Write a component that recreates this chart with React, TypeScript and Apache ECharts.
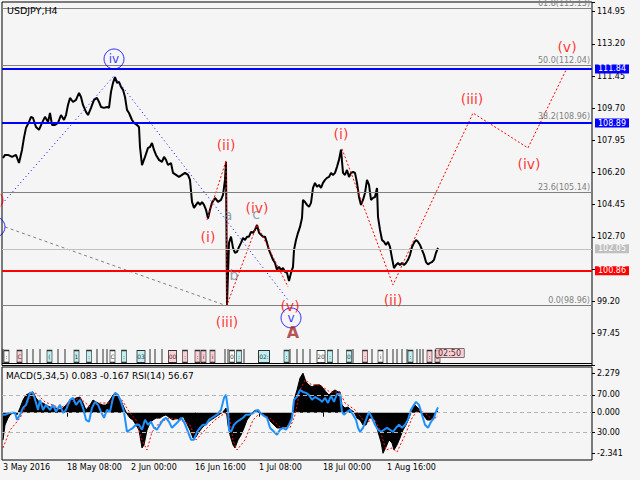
import React, { useEffect, useRef } from 'react';
import * as echarts from 'echarts';

// ---------- data (x = bar index on the H4 time axis) ----------
const PRICE: [number, number][] = [
  [3,106.99],[5,107.16],[8,107.16],[12,107.05],[16,107.16],[19,106.72],[22,107.43],[24,108.10],[26,108.63],[29,108.95],
  [31,109.23],[33,109.17],[36,108.68],[39,108.52],[42,108.90],[45,109.23],[48,108.95],[50,109.44],[52,108.79],[55,108.79],
  [58,108.90],[61,109.33],[64,109.06],[66,109.33],[68,109.88],[70,110.26],[73,110.04],[76,110.15],[79,110.53],[81,110.31],
  [83,109.88],[86,109.50],[88,109.33],[91,109.72],[94,110.15],[97,110.26],[99,110.04],[101,109.77],[104,109.72],[107,109.77],
  [109,109.72],[111,110.59],[113,111.08],[115,111.40],[117,111.08],[119,111.13],[121,110.86],[123,110.70],[125,110.31],[127,109.61],
  [129,109.44],[132,109.06],[134,108.90],[137,108.79],[139,108.68],[140,107.59],[142,106.60],[145,107.05],[148,107.54],[150,107.59],
  [152,107.81],[154,107.43],[156,107.16],[159,106.89],[162,106.78],[164,107.05],[166,106.89],[168,106.61],[171,106.72],[173,106.18],
  [176,106.07],[179,105.96],[182,106.07],[185,106.18],[188,106.07],[190,105.80],[192,104.60],[194,104.28],[196,104.44],[198,104.60],
  [200,104.44],[202,104.60],[204,104.44],[206,104.17],[208,103.70],[210,104.17],[212,104.55],[215,104.82],[218,104.60],[221,104.71],
  [223,104.98],[225,105.80],[226,106.78],[227,98.99],[229,102.37],[231,102.71],[233,102.10],[235,101.83],[237,101.88],[239,102.15],
  [241,102.37],[243,102.64],[245,102.53],[247,102.71],[249,102.71],[251,102.97],[253,102.92],[255,103.08],[257,103.35],[259,102.92],
  [261,102.81],[263,102.71],[265,102.71],[267,102.37],[269,101.99],[271,101.72],[273,101.45],[275,101.28],[277,100.90],[279,101.07],
  [281,100.90],[283,101.01],[285,100.79],[287,100.74],[289,100.30],[291,100.74],[293,101.07],[294,101.99],[296,102.53],[298,102.92],
  [300,103.24],[302,103.73],[303,104.71],[305,104.60],[307,104.44],[309,104.33],[311,104.55],[313,105.36],[315,105.64],[317,105.42],
  [319,105.53],[321,105.36],[323,105.64],[325,105.80],[327,105.91],[329,105.96],[331,106.18],[333,106.07],[335,106.18],[337,106.51],
  [339,106.89],[341,107.45],[343,106.18],[345,106.07],[347,106.34],[349,105.96],[351,106.18],[353,106.23],[355,106.18],[357,105.64],
  [359,104.87],[361,104.44],[363,104.71],[365,105.09],[367,105.80],[369,105.53],[371,104.71],[373,104.82],[375,104.87],[377,105.36],
  [378,103.79],[380,103.08],[382,102.53],[384,102.43],[386,102.26],[388,102.43],[390,102.15],[392,101.55],[394,101.00],[396,101.17],
  [398,101.28],[400,101.17],[402,101.28],[404,101.17],[406,101.28],[408,101.45],[410,101.72],[412,102.15],[414,102.37],[416,102.53],
  [418,102.43],[420,102.26],[422,101.99],[424,101.72],[426,101.33],[428,101.20],[430,101.28],[432,101.33],[434,101.45],[436,101.83],
  [438,102.10],
];

const MACD_HIST: [number, number][] = [
  [3,-1.57],[5,-0.71],[8,-0.31],[10,-0.13],[13,0],[17,-0.13],[20,0.27],[23,0.73],[26,1.02],[30,1.14],[33,1.20],[36,0.85],
  [40,0.56],[43,0.56],[46,0.44],[50,0.33],[53,0.27],[56,0.27],[60,0.16],[63,0.27],[66,0.44],[70,0.73],[73,0.73],[76,0.85],
  [80,0.90],[83,0.56],[86,0.16],[90,0.44],[93,0.73],[96,0.62],[100,0.50],[103,0.44],[106,0.44],[110,0.73],[113,1.02],[116,1.14],
  [119,0.90],[122,0.56],[125,0.16],[127,-0.07],[130,-0.31],[133,-0.42],[136,-0.71],[139,-1.00],[142,-2.03],[144,-1.86],[147,-1.00],
  [150,-0.59],[153,-0.42],[156,-0.31],[160,-0.31],[163,-0.19],[166,-0.13],[170,-0.31],[173,-0.42],[176,-0.31],[180,-0.42],[183,-0.19],
  [186,-0.54],[190,-1.00],[193,-1.46],[196,-1.40],[199,-1.11],[202,-0.88],[205,-0.71],[208,-0.54],[211,-0.42],[214,-0.31],[217,-0.19],
  [220,-0.07],[223,0.04],[226,0.27],[228,-0.71],[230,-1.29],[233,-1.86],[235,-2.03],[238,-1.57],[241,-1.29],[244,-0.88],[247,-0.42],
  [250,-0.19],[253,0.04],[256,0.16],[259,0.04],[262,-0.07],[265,-0.19],[268,-0.31],[271,-0.54],[274,-0.71],[277,-0.88],[280,-0.88],
  [283,-0.82],[286,-0.82],[289,-0.71],[292,-0.31],[294,0.73],[297,1.31],[300,2.00],[303,2.28],[306,1.77],[309,1.60],[312,1.48],
  [315,1.60],[318,1.60],[320,1.60],[323,1.42],[326,1.20],[329,1.02],[332,1.20],[335,1.31],[338,1.20],[340,1.20],[342,0.44],[345,0.27],
  [348,0.33],[351,0.16],[354,0.04],[357,-0.31],[360,-0.42],[363,-0.71],[366,-0.71],[369,-0.31],[372,-0.31],[375,-0.42],[378,-1.11],
  [381,-1.69],[383,-2.34],[386,-1.98],[389,-1.57],[392,-1.75],[394,-2.15],[397,-1.86],[400,-1.46],[403,-1.00],[406,-0.71],[409,-0.31],
  [412,0.16],[415,0.44],[418,0.27],[421,0.04],[424,-0.19],[427,-0.42],[430,-0.42],[433,-0.31],[436,0.04],[438,0.08],
];

const MACD_SIGNAL: [number, number][] = [
  [3,-2.03],[10,-1.00],[20,-0.31],[30,0.85],[36,1.14],[45,0.62],[60,0.27],[70,0.56],[80,0.85],[90,0.33],[100,0.56],[110,0.56],
  [116,1.02],[122,0.73],[130,-0.02],[136,-0.42],[142,-1.57],[147,-2.15],[152,-1.11],[160,-0.54],[170,-0.31],[180,-0.42],[190,-0.71],
  [196,-1.57],[205,-1.00],[215,-0.42],[225,-0.02],[229,-0.13],[233,-1.57],[237,-2.15],[245,-1.57],[253,-0.42],[260,-0.02],[270,-0.31],
  [280,-0.82],[290,-0.88],[295,-0.13],[300,1.31],[305,1.88],[312,1.60],[320,1.60],[330,1.19],[340,1.19],[345,0.56],[355,0.16],
  [365,-0.54],[375,-0.42],[380,-1.00],[386,-2.15],[392,-2.03],[397,-2.27],[405,-1.29],[412,-0.31],[418,0.16],[425,-0.02],[433,-0.42],
  [438,-0.17],
];

const RSI: [number, number][] = [
  [3,48.6],[5,48.6],[10,50.7],[15,50.7],[17,43.2],[20,48.6],[23,56.1],[26,59.3],[30,72.2],[33,72.2],[36,61.4],[38,53.9],[40,64.7],
  [43,53.9],[46,59.3],[50,53.9],[53,59.3],[56,51.8],[60,59.3],[63,50.7],[66,53.9],[70,64.7],[73,66.8],[76,59.3],[80,64.7],[83,56.1],
  [86,43.2],[89,41.1],[92,56.1],[95,62.5],[98,59.3],[101,51.8],[104,45.4],[107,53.9],[110,51.8],[113,66.8],[115,72.2],[118,70.0],
  [121,62.5],[124,51.8],[127,30.3],[130,32.5],[133,34.6],[136,37.9],[139,37.9],[142,32.5],[145,43.2],[148,37.9],[151,41.1],[154,34.6],
  [157,32.5],[160,37.9],[163,43.2],[166,45.4],[169,41.1],[172,34.6],[175,37.9],[178,41.1],[181,45.4],[184,41.1],[188,30.3],[191,21.8],
  [194,21.8],[197,30.3],[200,34.6],[203,37.9],[206,37.9],[209,43.2],[212,45.4],[215,47.5],[218,49.7],[221,53.9],[224,66.8],[226,70.0],
  [228,53.9],[229,32.5],[231,30.3],[234,37.9],[237,41.1],[240,43.2],[243,45.4],[246,48.6],[249,48.6],[252,49.7],[255,51.8],[258,53.9],
  [261,49.7],[264,47.5],[267,45.4],[270,34.6],[272,32.5],[274,30.3],[277,27.1],[280,32.5],[283,34.6],[286,32.5],[289,37.9],[292,45.4],
  [294,64.7],[297,67.9],[300,75.4],[303,73.2],[306,72.2],[309,70.0],[312,64.7],[315,67.9],[320,64.7],[322,62.5],[325,66.8],[328,61.4],
  [331,69.0],[334,62.5],[337,71.1],[340,71.1],[342,51.8],[344,48.6],[347,51.8],[350,53.9],[353,48.6],[356,43.2],[358,34.6],[360,30.3],
  [363,34.6],[366,43.2],[369,51.8],[372,45.4],[375,37.9],[378,32.5],[381,30.3],[384,32.5],[387,34.6],[390,32.5],[393,30.3],[396,34.6],
  [399,37.9],[402,34.6],[405,37.9],[408,43.2],[411,53.9],[414,59.3],[416,62.5],[419,59.3],[422,48.6],[425,37.9],[428,34.6],[431,41.1],
  [434,45.4],[436,52.0],[438,56.67],
];

// wave paths
const RED_PATH_1: [number, number][] = [[207,103.62],[226,106.83],[227,99.00],[257,103.35],[288,99.98]];
const RED_PATH_2: [number, number][] = [[342,107.49],[393,100.09],[473,109.44],[528,107.54],[567,111.89]];
const BLUE_PATH: [number, number][] = [[2,104.49],[114,111.46],[289,99.20]];
const GRAY_PATH: [number, number][] = [[5,103.24],[224,99.00]];

// wave labels [bar, price, text]
const RED_LABELS: [number, number, string][] = [
  [-5,104.71,'(v)'],[208,102.70,'(i)'],[226,107.70,'(ii)'],[227,98.07,'(iii)'],[257,104.28,'(iv)'],[290,98.94,'(v)'],
  [341,108.30,'(i)'],[393,99.27,'(ii)'],[472,110.21,'(iii)'],[529,106.67,'(iv)'],[567,113.04,'(v)'],
];
const ABC_LABELS: [number, number, string][] = [[228,103.89,'a'],[234,100.63,'b'],[256,103.95,'c']];
const CIRCLE_LABELS: [number, number, string][] = [[-5,103.24,''],[114,112.38,'iv'],[291,98.29,'v']];
const DEGREE_LABELS: [number, number, string][] = [[293,97.47,'A']];

// horizontal levels
const FIB_VALUES = [115.13, 112.04, 108.96, 105.14, 98.96];
const FIB_PCTS = ['61.8', '50.0', '38.2', '23.6', '0.0'];
const BLUE_LEVELS = [111.84, 108.89];
const RED_LEVEL = 100.86;
const BID_LEVEL = 102.05;

// session / news marker strip
const STRIP_PRICE = 96.19;
const STRIP_LINES = [3,27,33,40,58,65,97,103,107,150,155,162,225,228,244,290,297,303,310,338,353,372,387,393,397,402,407,417,420,423];
const STRIP_BOXES: [number, string, string][] = [
  [6.5,':','w'],[19.5,'C','p'],[49.5,'(','c'],[76.5,'1','c'],[89,':','c'],[112.5,'C','w'],[124,':','c'],[141,'03','c'],
  [172.5,'00','p'],[185,':','p'],[197.5,':','p'],[203.5,'i','p'],[212.5,'i','p'],[232,'0','w'],[239,':','c'],[264,'02:','c'],
  [286.5,':','c'],[321,'20','w'],[330,':','c'],[349,'0','c'],[365,':','p'],[380.5,'i','w'],[410.5,':','c'],[429.5,':','p'],[437.5,'0','p'],
];
const TIME_TAG: [number, number, string] = [450, 96.38, '02:50'];

// axes
const X_TICKS = [3, 67, 131, 195, 259, 323, 387];
const X_LABELS = ['3 May 2016', '18 May 08:00', '2 Jun 00:00', '16 Jun 16:00', '1 Jul 08:00', '18 Jul 00:00', '1 Aug 16:00'];
const Y_MIN = 95.70;
const Y_MAX = 115.48;
const Y_STEP = 1.75;
const MACD_TICKS = [2.279, 0, -2.341];
const RSI_TICKS = [70, 30];

const FONT = 'DejaVu Sans';
const BOX_COLORS: Record<string, string> = { c: '#b4eef0', p: '#ffc4cc', w: '#ffffff' };

function buildOption() {
  const lineS = (data: [number, number][], color: string, type: any, width = 1) => ({
    type: 'line', xAxisIndex: 0, yAxisIndex: 0, data, symbol: 'none', silent: true,
    lineStyle: { color, width, type }, z: 4,
  });
  const textS = (data: [number, number, string][], color: string, fontSize: number, bold = false) => ({
    type: 'scatter', xAxisIndex: 0, yAxisIndex: 0, clip: false, silent: true, z: 6,
    symbol: 'circle', symbolSize: 1, itemStyle: { color: 'rgba(0,0,0,0)' },
    data: data.map(([x, p, t]) => ({ value: [x, p], name: t })),
    label: { show: true, position: 'inside', formatter: '{b}', color, fontSize, fontFamily: FONT, fontWeight: bold ? 'bold' : 'normal' },
  });

  const boxLabel = (v: number, bg: string) => ({
    show: true, position: 'end', formatter: v.toFixed(2), color: '#fff', backgroundColor: bg,
    padding: [1, 3, 0, 3], fontSize: 8, fontFamily: FONT, distance: 3,
  });

  const priceMarks: any[] = [];
  FIB_VALUES.forEach((v, i) => priceMarks.push({
    yAxis: v, lineStyle: { color: '#808080', width: 1, type: 'solid' },
    label: { show: true, position: 'insideEndTop', formatter: `${FIB_PCTS[i]}(${v.toFixed(2)})`, color: '#808080', fontSize: 8, fontFamily: FONT, distance: [2, 1] },
  }));
  priceMarks.push({ yAxis: BID_LEVEL, lineStyle: { color: '#c0c0c0', width: 1, type: 'solid' }, label: boxLabel(BID_LEVEL, '#c0c0c0') });
  BLUE_LEVELS.forEach((v) => priceMarks.push({ yAxis: v, lineStyle: { color: '#0000ff', width: 2, type: 'solid' }, label: boxLabel(v, '#0000ff') }));
  priceMarks.push({ yAxis: RED_LEVEL, lineStyle: { color: '#ff0000', width: 2, type: 'solid' }, label: boxLabel(RED_LEVEL, '#ff0000') });

  const axisFont = { fontSize: 8, color: '#000', fontFamily: FONT };

  return {
    animation: false,
    backgroundColor: '#f5f5f5',
    textStyle: { fontFamily: FONT },
    grid: [
      { left: 2, right: 48, top: 2, height: 363.5, show: true, borderColor: '#000', borderWidth: 1, backgroundColor: 'transparent' },
      { left: 2, right: 48, top: 367, height: 93, show: true, borderColor: '#000', borderWidth: 1, backgroundColor: 'transparent' },
    ],
    xAxis: [
      { gridIndex: 0, type: 'value', min: 2, max: 592, show: false },
      {
        gridIndex: 1, type: 'value', min: 2, max: 592,
        axisLine: { show: false }, splitLine: { show: false },
        axisTick: { show: true, customValues: X_TICKS, length: 4, lineStyle: { color: '#000' } },
        axisLabel: {
          ...axisFont, customValues: X_TICKS, align: 'left', margin: 3,
          formatter: (v: number) => { const i = X_TICKS.indexOf(v); return i >= 0 ? X_LABELS[i] : ''; },
        },
      },
    ],
    yAxis: [
      {
        gridIndex: 0, type: 'value', position: 'right', min: Y_MIN, max: Y_MAX, interval: Y_STEP,
        axisLine: { show: false }, splitLine: { show: false },
        axisTick: { show: true, length: 3, lineStyle: { color: '#000' } },
        axisLabel: {
          ...axisFont, margin: 5,
          formatter: (v: number) => {
            const k = (v - Y_MIN) / Y_STEP; const r = Math.round(k);
            if (Math.abs(k - r) > 1e-4 || r === 0 || r === 3) return '';
            return v.toFixed(2);
          },
        },
      },
      {
        gridIndex: 1, type: 'value', position: 'right', min: -2.726, max: 2.634,
        axisLine: { show: false }, splitLine: { show: false },
        axisTick: { show: true, length: 3, customValues: MACD_TICKS, lineStyle: { color: '#000' } },
        axisLabel: { ...axisFont, margin: 5, customValues: MACD_TICKS, formatter: (v: number) => v.toFixed(3) },
      },
      {
        gridIndex: 1, type: 'value', position: 'right', min: 0, max: 100,
        axisLine: { show: false }, splitLine: { show: false },
        axisTick: { show: true, length: 3, customValues: RSI_TICKS, lineStyle: { color: '#000' } },
        axisLabel: { ...axisFont, margin: 5, customValues: RSI_TICKS, formatter: (v: number) => v.toFixed(2) },
      },
    ],
    series: [
      {
        type: 'line', xAxisIndex: 0, yAxisIndex: 0, data: [], symbol: 'none', silent: true, z: 2,
        markLine: { silent: true, symbol: ['none', 'none'], animation: false, data: priceMarks },
      },
      {
        type: 'line', xAxisIndex: 0, yAxisIndex: 0, data: [], symbol: 'none', silent: true, z: 2,
        markLine: { silent: true, symbol: ['none', 'none'], animation: false, data: [{ yAxis: 95.84, lineStyle: { color: '#000', width: 1, type: 'solid' }, label: { show: false } }] },
      },
      { type: 'line', xAxisIndex: 0, yAxisIndex: 0, data: PRICE, symbol: 'none', silent: true, z: 3, lineStyle: { color: '#000', width: 2 } },
      lineS(GRAY_PATH, '#808080', [3, 3]),
      lineS(BLUE_PATH, '#0000ff', [1, 3]),
      lineS(RED_PATH_1, '#ff0000', [2, 2]),
      lineS(RED_PATH_2, '#ff0000', [2, 2]),
      // marker strip
      {
        type: 'scatter', xAxisIndex: 0, yAxisIndex: 0, silent: true, z: 3, symbol: 'rect', symbolSize: [1, 15],
        itemStyle: { color: '#000' }, data: STRIP_LINES.map((x) => [x, STRIP_PRICE]),
      },
      {
        type: 'scatter', xAxisIndex: 0, yAxisIndex: 0, silent: true, z: 4, symbol: 'rect',
        data: STRIP_BOXES.map(([x, t, k]) => ({
          value: [x, STRIP_PRICE], name: t, symbolSize: [2 + 3 * t.length, 12],
          itemStyle: { color: BOX_COLORS[k], borderColor: '#000', borderWidth: 1 },
        })),
        label: { show: true, position: 'inside', formatter: '{b}', fontSize: 6, color: '#000', fontFamily: FONT },
      },
      {
        type: 'scatter', xAxisIndex: 0, yAxisIndex: 0, silent: true, z: 5, symbolSize: 1, itemStyle: { color: 'rgba(0,0,0,0)' },
        data: [{ value: [TIME_TAG[0], TIME_TAG[1]], name: TIME_TAG[2] }],
        label: { show: true, position: 'inside', formatter: '{b}', fontSize: 8, color: '#000', fontFamily: FONT, backgroundColor: '#ffc4cc', borderColor: '#000', borderWidth: 0.5, padding: [1, 3, 0, 2] },
      },
      // wave labels
      textS(RED_LABELS, '#ff0000', 14),
      textS(ABC_LABELS, '#778899', 14),
      textS(DEGREE_LABELS, '#a52a2a', 16, true),
      {
        type: 'scatter', xAxisIndex: 0, yAxisIndex: 0, clip: false, silent: true, z: 6, symbol: 'circle', symbolSize: 20,
        itemStyle: { color: 'rgba(0,0,0,0)', borderColor: '#0000ff', borderWidth: 1 },
        data: CIRCLE_LABELS.map(([x, p, t]) => ({ value: [x, p], name: t })),
        label: { show: true, position: 'inside', formatter: '{b}', color: '#0000ff', fontSize: 12, fontFamily: FONT },
      },
      // MACD pane
      {
        type: 'line', xAxisIndex: 1, yAxisIndex: 1, data: MACD_HIST, symbol: 'none', silent: true, z: 2,
        lineStyle: { color: '#000', width: 1 }, areaStyle: { color: '#000', opacity: 1, origin: 0 },
        markLine: { silent: true, symbol: ['none', 'none'], animation: false, data: [{ yAxis: 0, lineStyle: { color: '#b4b4b4', width: 1, type: [4, 3] }, label: { show: false } }] },
      },
      {
        type: 'line', xAxisIndex: 1, yAxisIndex: 1, data: MACD_SIGNAL, symbol: 'none', silent: true, z: 3,
        lineStyle: { color: '#ff0000', width: 1, type: [2, 2] },
      },
      {
        type: 'line', xAxisIndex: 1, yAxisIndex: 2, data: RSI, symbol: 'none', silent: true, z: 4,
        lineStyle: { color: '#1e90ff', width: 2 },
        markLine: {
          silent: true, symbol: ['none', 'none'], animation: false,
          data: RSI_TICKS.map((v) => ({ yAxis: v, lineStyle: { color: '#b4b4b4', width: 1, type: [4, 3] }, label: { show: false } })),
        },
      },
    ],
    graphic: [
      { type: 'text', left: 7, top: 5, z: 10, style: { text: 'USDJPY,H4', fontSize: 9.5, fill: '#000', fontFamily: FONT } },
      { type: 'text', left: 6, top: 371, z: 10, style: { text: 'MACD(5,34,5) 0.083 -0.167 RSI(14) 56.67', fontSize: 9, fill: '#000', fontFamily: FONT } },
    ],
  };
}

export default function App() {
  const ref = useRef<HTMLDivElement>(null);
  useEffect(() => {
    document.body.style.margin = '0';
    const chart = echarts.init(ref.current!, null, { renderer: 'svg' });
    chart.setOption(buildOption() as any);
    return () => chart.dispose();
  }, []);
  return <div ref={ref} style={{ width: 640, height: 480 }} />;
}
